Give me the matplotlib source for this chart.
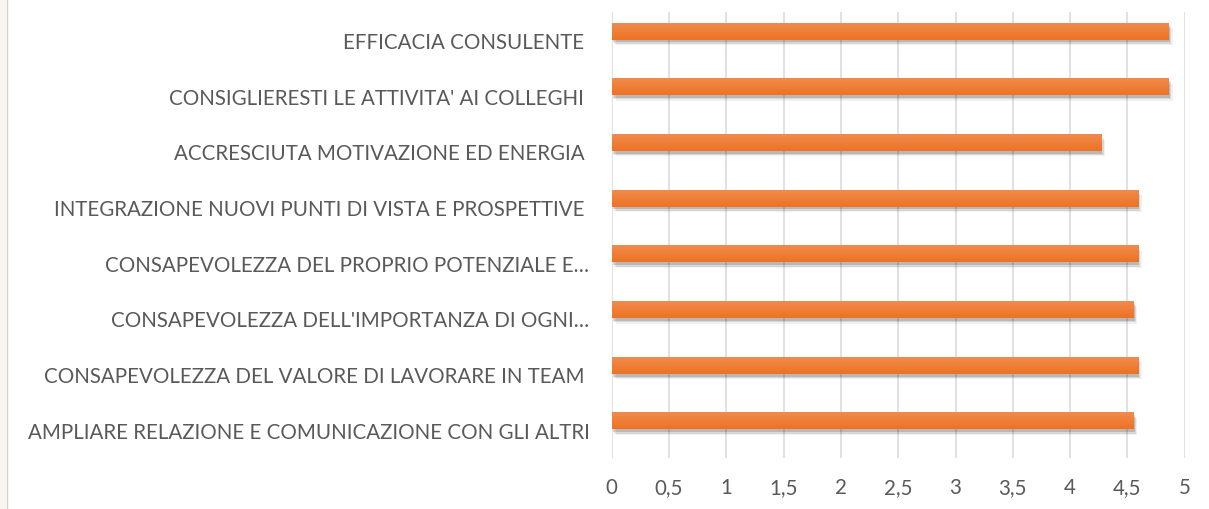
import matplotlib
matplotlib.use("Agg")
import matplotlib.pyplot as plt
import matplotlib.patheffects as pe
from matplotlib.colors import LinearSegmentedColormap
import numpy as np

categories = [
    "EFFICACIA CONSULENTE ",
    "CONSIGLIERESTI LE ATTIVITA' AI COLLEGHI ",
    "ACCRESCIUTA MOTIVAZIONE ED ENERGIA ",
    "INTEGRAZIONE NUOVI PUNTI DI VISTA E PROSPETTIVE ",
    "CONSAPEVOLEZZA DEL PROPRIO POTENZIALE E…",
    "CONSAPEVOLEZZA DELL'IMPORTANZA DI OGNI…",
    "CONSAPEVOLEZZA DEL VALORE DI LAVORARE IN TEAM ",
    "AMPLIARE RELAZIONE E COMUNICAZIONE CON GLI ALTRI",
]
values = [4.86, 4.86, 4.27, 4.59, 4.59, 4.55, 4.59, 4.55]
xticks = [0, 0.5, 1, 1.5, 2, 2.5, 3, 3.5, 4, 4.5, 5]
xticklabels = ["0", "0,5", "1", "1,5", "2", "2,5", "3", "3,5", "4", "4,5", "5"]

plt.rcParams['font.family'] = ['Lato', 'DejaVu Sans']
TEXT = "#595959"

fig = plt.figure(figsize=(12.09, 5.10), dpi=100)
fig.patch.set_facecolor("white")
# left decorative strip
fig.patches.append(plt.Rectangle((0, 0), 6/1209, 1, transform=fig.transFigure,
                                 facecolor="#FAF4F1", edgecolor="none", zorder=0))
fig.add_artist(plt.Line2D([6.5/1209, 6.5/1209], [0, 1], transform=fig.transFigure,
                          color="#D6D2D0", lw=1.0))

ax = fig.add_axes([611.7/1209, 1 - 458.6/510, (1184.7 - 611.7)/1209, (458.6 - 13)/510])

n = len(categories)
ypos = np.arange(n)[::-1]
offset = 0.158
bars = ax.barh(ypos + offset, values, height=0.305, color="#ED7D31", zorder=3)

cmap = LinearSegmentedColormap.from_list("g", ["#EE7222", "#F08B4E"])
grad = np.linspace(0, 1, 64).reshape(-1, 1)
for b in bars:
    b.set_path_effects([
        pe.SimplePatchShadow(offset=(3, -4), shadow_rgbFace="black", alpha=0.06),
        pe.SimplePatchShadow(offset=(2, -3), shadow_rgbFace="black", alpha=0.10),
        pe.SimplePatchShadow(offset=(1, -2), shadow_rgbFace="black", alpha=0.14),
        pe.Normal(),
    ])
    x0, y0 = b.get_x(), b.get_y()
    w, h = b.get_width(), b.get_height()
    im = ax.imshow(grad, cmap=cmap, extent=(x0, x0 + w, y0, y0 + h), origin="lower",
                   aspect="auto", zorder=4, interpolation="bilinear")
    im.set_clip_path(b)

ax.set_xlim(0, 5)
ax.set_ylim(-0.5, n - 0.5)
ax.set_xticks(xticks)
ax.set_xticklabels(xticklabels)
ax.set_yticks(ypos)
ax.set_yticklabels(categories)
ax.grid(axis="x", color="#D9D9D9", lw=1.1, zorder=0)
ax.set_axisbelow(True)
for s in ax.spines.values():
    s.set_visible(False)
ax.tick_params(axis="both", length=0, colors=TEXT, labelsize=14.8)
ax.tick_params(axis="y", pad=16)
ax.tick_params(axis="x", pad=14)

fig.savefig("out.png", dpi=100)
